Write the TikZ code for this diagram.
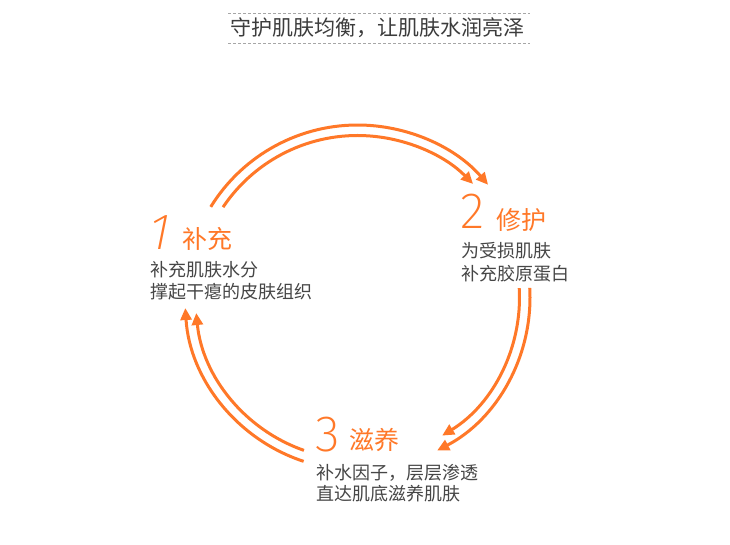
\documentclass[tikz,border=0pt]{standalone}
\usepackage{fontspec}
\setmainfont{Noto Sans CJK SC}
\newfontfamily\numfont{Fira Sans ExtraLight}
\newfontfamily\numfontsl{Fira Sans ExtraLight}[FakeSlant=0.2]
\usetikzlibrary{arrows.meta,calc}
\definecolor{org}{RGB}{255,120,40}
\definecolor{txt}{RGB}{70,70,70}
\definecolor{ttltxt}{RGB}{60,60,60}
\begin{document}
\begin{tikzpicture}[x=1pt,y=1pt,
  cyc/.style={draw=org, line width=3pt, -{Triangle[length=12pt,width=11pt]}},
  num/.style={text=org, inner sep=0pt, anchor=center, font=\numfont\fontsize{51}{51}\selectfont},
  stagetitle/.style={text=org, inner sep=0pt, anchor=west, font=\fontsize{25}{25}\selectfont},
  desc/.style={text=txt, inner sep=0pt, anchor=west, font=\fontsize{18}{18}\selectfont},
  dashline/.style={draw=gray!70, line width=0.7pt, dash pattern=on 3pt off 2pt},
  ]
\useasboundingbox (0,0) rectangle (730,545);
\fill[white] (0,0) rectangle (730,545);

% heading
\node[text=ttltxt, inner sep=0pt, font=\fontsize{21}{21}\selectfont] (head) at (377.5,517.5) {守护肌肤均衡，让肌肤水润亮泽};
\coordinate (dla) at (228,532); \coordinate (dlb) at (530,532);
\coordinate (dlc) at (228,502); \coordinate (dld) at (530,502);
\draw[dashline] (dla) -- (dlb);
\draw[dashline] (dlc) -- (dld);

% stage 1
\node[num, font=\numfontsl\fontsize{51}{51}\selectfont] (n1) at (157,312.5) {1};
\node[stagetitle] (t1) at (182,306.5) {补充};
\node[desc] (d1a) at (150,275) {补充肌肤水分};
\node[desc] (d1b) at (150,253.5) {撑起干瘪的皮肤组织};

% stage 2
\node[num] (n2) at (472.5,333.5) {2};
\node[stagetitle] (t2) at (496,324.5) {修护};
\node[desc] (d2a) at (461,294.5) {为受损肌肤};
\node[desc] (d2b) at (461,271.5) {补充胶原蛋白};

% stage 3
\node[num] (n3) at (327.5,110) {3};
\node[stagetitle] (t3) at (349,105) {滋养};
\node[desc] (d3a) at (316,72.5) {补水因子，层层渗透};
\node[desc] (d3b) at (316,51.5) {直达肌底滋养肌肤};

% cycle arrows
\coordinate (C) at (357.5,247.5);
\coordinate (ao) at ($(C)+(148.3:172.5)$);
\coordinate (ai) at ($(C)+(146.1:162)$);
\coordinate (bo) at ($(C)+(3.2:172.5)$);
\coordinate (bi) at ($(C)+(3.3:162)$);
\coordinate (co) at ($(C)+(251.8:172.5)$);
\coordinate (ci) at ($(C)+(250.7:162)$);
\draw[cyc] (ao) arc[start angle=148.3, end angle=40.8, radius=172.5];
\draw[cyc] (ai) arc[start angle=146.1, end angle=44.5, radius=162];
\draw[cyc] (bo) arc[start angle=3.2, end angle=-62.5, radius=172.5];
\draw[cyc] (bi) arc[start angle=3.3, end angle=-58.5, radius=162];
\draw[cyc] (co) arc[start angle=251.8, end angle=183.5, radius=172.5];
\draw[cyc] (ci) arc[start angle=250.7, end angle=185.5, radius=162];
\end{tikzpicture}
\end{document}
